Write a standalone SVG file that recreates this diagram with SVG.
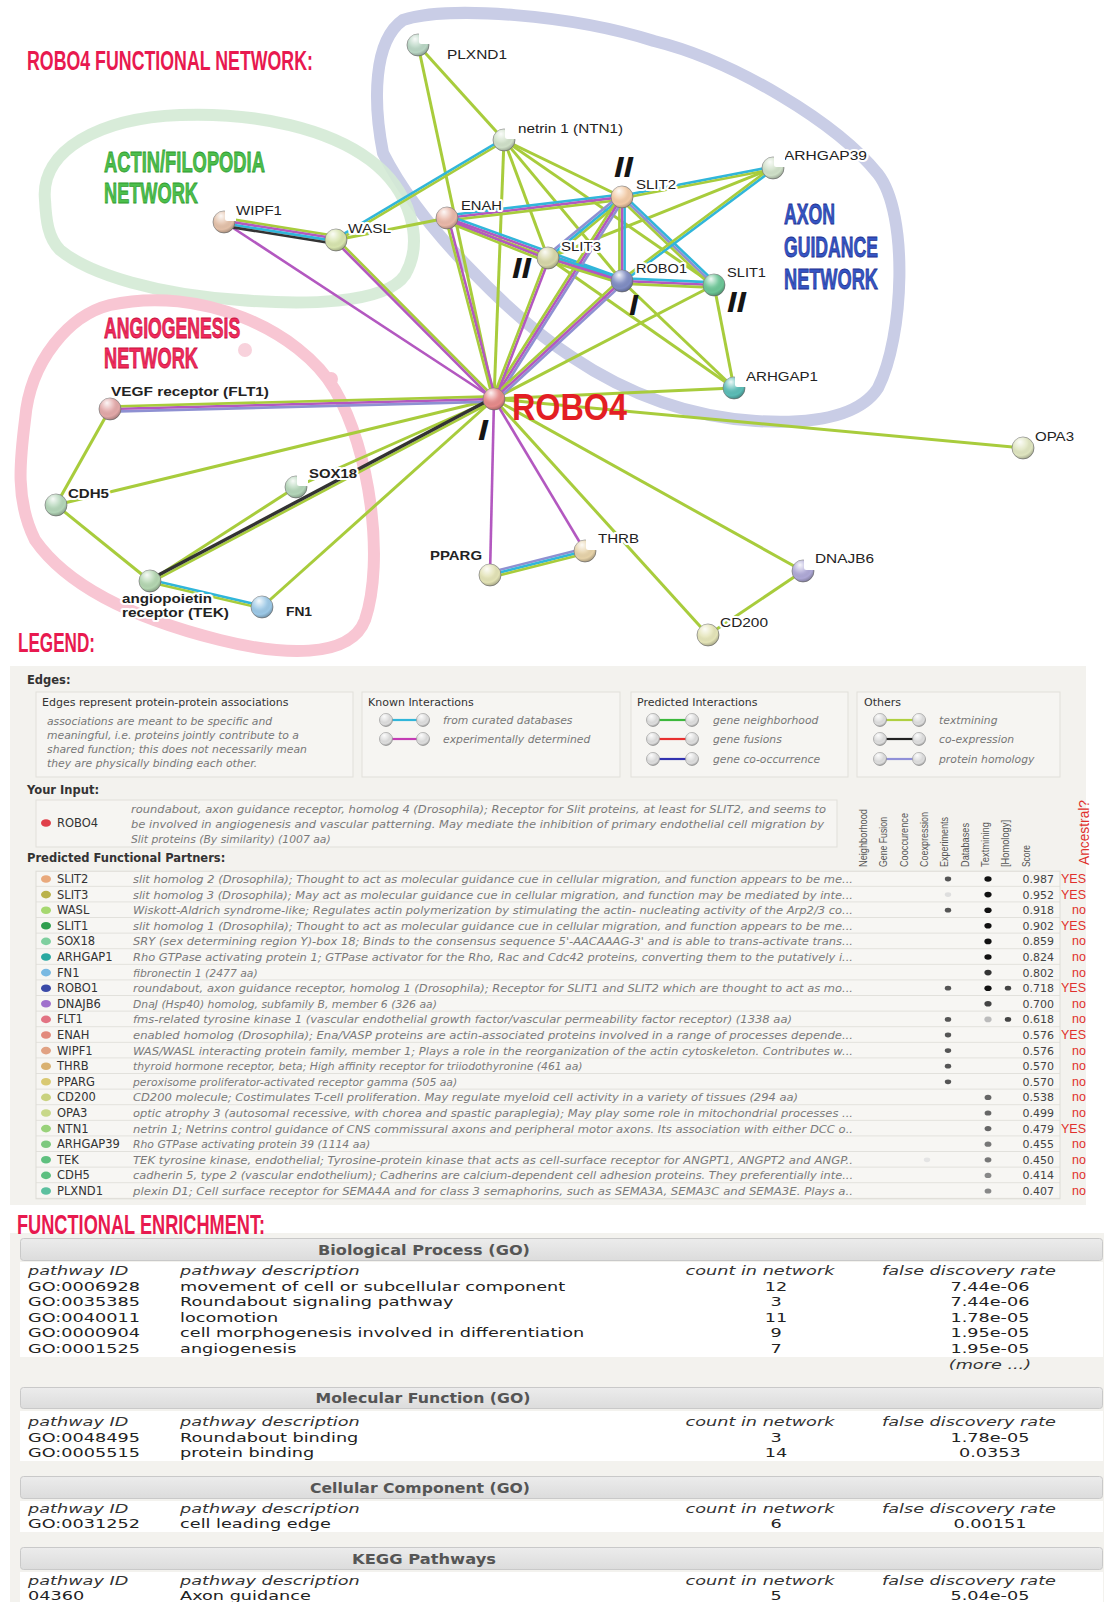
<svg xmlns="http://www.w3.org/2000/svg" width="1104" height="1602" viewBox="0 0 1104 1602">
<defs>
<style>
#edges line{stroke-width:2.6;stroke-linecap:butt;fill:none}
#edges line.s{stroke-width:3}
.tm{stroke:#a8cc3c}.ex{stroke:#b358c0}.db{stroke:#31b6da}.co{stroke:#333}.ho{stroke:#8e90d2}
.node circle{stroke:#7a7a7a;stroke-width:.7}
circle.sh{fill:url(#shine);stroke:none}
.notch{fill:#fff}
.lbl{font-family:"Liberation Sans",Arial,sans-serif;font-size:13px;fill:#222;paint-order:stroke;stroke:#fff;stroke-width:4px;stroke-linejoin:round}
.lb{font-weight:bold}
.hd{font-family:"Liberation Sans",Arial,sans-serif;font-weight:bold}
.num{font-family:"Liberation Sans",Arial,sans-serif;font-weight:bold;font-style:italic;font-size:30px;fill:#151515}
.lg{font-family:"DejaVu Sans",Verdana,sans-serif;font-size:11px;fill:#333}
.lgb{font-family:"DejaVu Sans",Verdana,sans-serif;font-size:11.5px;font-weight:bold;fill:#333}
.lgi{font-family:"DejaVu Sans",Verdana,sans-serif;font-size:10.8px;font-style:italic;fill:#777}
.pn{font-family:"DejaVu Sans",Verdana,sans-serif;font-size:11.5px;fill:#333}
.pd{font-family:"DejaVu Sans",Verdana,sans-serif;font-size:10.8px;font-style:italic;fill:#7a7a7a}
.sc{font-family:"DejaVu Sans",Verdana,sans-serif;font-size:11px;fill:#444;text-anchor:end}
.yn{font-family:"Liberation Sans",Arial,sans-serif;font-size:12.5px;fill:#e0302c;text-anchor:end}
.ch{font-family:"Liberation Sans",Arial,sans-serif;font-size:11px;fill:#555}
.et{font-family:"DejaVu Sans",Verdana,sans-serif;font-size:13px;fill:#222}
.eh{font-family:"DejaVu Sans",Verdana,sans-serif;font-size:13px;font-style:italic;fill:#333}
.bt{font-family:"DejaVu Sans",Verdana,sans-serif;font-size:14px;font-weight:bold;fill:#555;text-anchor:middle}
.bar{fill:url(#barg);stroke:#c9c9c9;stroke-width:1}
.box{fill:#f6f5f2;stroke:#e1dfda;stroke-width:1}
</style>
<radialGradient id="shine" cx="0.4" cy="0.32" r="0.72" fx="0.36" fy="0.22">
<stop offset="0" stop-color="#fff" stop-opacity="0.9"/>
<stop offset="0.45" stop-color="#fff" stop-opacity="0.12"/>
<stop offset="0.75" stop-color="#000" stop-opacity="0"/>
<stop offset="1" stop-color="#000" stop-opacity="0.3"/>
</radialGradient>
<linearGradient id="barg" x1="0" y1="0" x2="0" y2="1">
<stop offset="0" stop-color="#ececec"/><stop offset="1" stop-color="#dcdcdc"/>
</linearGradient>
<g id="ball"><circle r="6.5" fill="#dedede" stroke="#9a9a9a" stroke-width="0.7"/><circle r="6.5" fill="url(#shine)"/></g>
<path id="notch" d="M1,-12 L12,-12 L12,-1 L3.5,-1 Q1,-1 1,-3.5 Z"/>
<pattern id="rowlines" x="0" y="871.2" width="1104" height="15.6" patternUnits="userSpaceOnUse">
<rect width="1104" height="15.6" fill="#f7f6f3"/><line x1="0" y1="15.1" x2="1104" y2="15.1" stroke="#e2e1dc" stroke-width="1"/>
</pattern>
</defs>
<rect width="1104" height="1602" fill="#fff"/>

<!-- group outlines -->
<g id="clusters" fill="none" stroke-linejoin="round">
<path d="M383,153 C373,102 373,41 403,20 C449,5 572,15 654,41 C735,61 837,123 878,174 C909,214 904,337 878,388 C858,419 807,424 756,421 C694,417 633,398 572,357 C511,317 419,225 383,153 Z" stroke="#c9cde6" stroke-width="12"/>
<path d="M45,200 C40,150 100,118 180,115 C260,112 330,130 370,160 C410,190 425,240 405,275 C385,305 300,305 240,300 C160,295 90,275 60,250 C48,238 46,220 45,200 Z" stroke="#d4ead5" stroke-width="12" opacity="0.9"/>
<path d="M25,420 C30,360 70,315 110,305 C200,285 300,330 335,390 C370,450 385,560 365,620 C350,660 280,655 220,640 C140,620 70,590 35,540 C15,500 20,460 25,420 Z" stroke="#f8c6d3" stroke-width="12"/>
<circle cx="245" cy="350" r="7" fill="#f8d2dc"/>
<circle cx="331" cy="379" r="7" fill="#f8c6d3"/>
</g>

<!-- titles -->
<g id="titles">
<text class="hd" transform="translate(27 70) scale(0.634 1)" font-size="28" fill="#e8194f" textLength="451" lengthAdjust="spacingAndGlyphs">ROBO4 FUNCTIONAL NETWORK:</text>
<text class="hd" transform="translate(104 172) scale(0.612 1)" font-size="30" fill="#4cbf4c" stroke="#2e9a2e" stroke-width="0.8" textLength="263" lengthAdjust="spacingAndGlyphs">ACTIN/FILOPODIA</text>
<text class="hd" transform="translate(104 203) scale(0.606 1)" font-size="30" fill="#4cbf4c" stroke="#2e9a2e" stroke-width="0.8" textLength="155" lengthAdjust="spacingAndGlyphs">NETWORK</text>
<text class="hd" transform="translate(104 338) scale(0.587 1)" font-size="30" fill="#f02a5c" stroke="#c8103c" stroke-width="0.8" textLength="232" lengthAdjust="spacingAndGlyphs">ANGIOGENESIS</text>
<text class="hd" transform="translate(104 368) scale(0.606 1)" font-size="30" fill="#f02a5c" stroke="#c8103c" stroke-width="0.8" textLength="155" lengthAdjust="spacingAndGlyphs">NETWORK</text>
<text class="hd" transform="translate(784 224) scale(0.588 1)" font-size="30" fill="#3555c4" stroke="#1d3090" stroke-width="0.8" textLength="86.7" lengthAdjust="spacingAndGlyphs">AXON</text>
<text class="hd" transform="translate(784 257) scale(0.588 1)" font-size="30" fill="#3555c4" stroke="#1d3090" stroke-width="0.8" textLength="160" lengthAdjust="spacingAndGlyphs">GUIDANCE</text>
<text class="hd" transform="translate(784 289) scale(0.606 1)" font-size="30" fill="#3555c4" stroke="#1d3090" stroke-width="0.8" textLength="155" lengthAdjust="spacingAndGlyphs">NETWORK</text>
<text class="hd" transform="translate(18 652) scale(0.634 1)" font-size="27" fill="#e8194f" textLength="121.5" lengthAdjust="spacingAndGlyphs">LEGEND:</text>
</g>

<!-- connectors -->
<g id="edges">
<line class="tm s" x1="418" y1="45" x2="504" y2="140"/>
<line class="tm s" x1="418" y1="45" x2="494" y2="399"/>
<line class="tm s" x1="504" y1="140" x2="494" y2="399"/>
<line class="tm s" x1="504" y1="140" x2="622" y2="197"/>
<line class="tm s" x1="504" y1="140" x2="548" y2="258"/>
<line class="tm s" x1="504" y1="140" x2="622" y2="281"/>
<line class="tm s" x1="504" y1="140" x2="714" y2="285"/>
<line class="tm s" x1="336" y1="240" x2="447" y2="218"/>
<line class="tm s" x1="773" y1="168" x2="548" y2="258"/>
<line class="tm s" x1="548" y1="258" x2="734" y2="388"/>
<line class="tm s" x1="622" y1="281" x2="734" y2="388"/>
<line class="tm s" x1="714" y1="285" x2="734" y2="388"/>
<line class="tm s" x1="714" y1="285" x2="494" y2="399"/>
<line class="tm s" x1="734" y1="388" x2="494" y2="399"/>
<line class="tm s" x1="494" y1="399" x2="1023" y2="448"/>
<line class="tm s" x1="494" y1="399" x2="803" y2="571"/>
<line class="tm s" x1="494" y1="399" x2="708" y2="635"/>
<line class="tm s" x1="803" y1="571" x2="708" y2="635"/>
<line class="tm s" x1="494" y1="399" x2="56" y2="505"/>
<line class="tm s" x1="494" y1="399" x2="296" y2="487"/>
<line class="tm s" x1="494" y1="399" x2="262" y2="607"/>
<line class="tm s" x1="56" y1="505" x2="110" y2="409"/>
<line class="tm s" x1="56" y1="505" x2="150" y2="581"/>
<line class="tm s" x1="296" y1="487" x2="150" y2="581"/>
<line class="ex" x1="494" y1="399" x2="224" y2="222"/>
<line class="ex" x1="494" y1="399" x2="490" y2="575"/>
<line class="ex" x1="494" y1="399" x2="585" y2="551"/>
<g transform="translate(494 399) rotate(178.5)"><line class="ho" x1="0" y1="-2.6" x2="384" y2="-2.6"/><line class="ex" x1="0" y1="0" x2="384" y2="0"/><line class="tm" x1="0" y1="2.6" x2="384" y2="2.6"/></g>
<g transform="translate(224 222) rotate(9.1)"><line class="tm" x1="0" y1="-3.9" x2="113" y2="-3.9"/><line class="ex" x1="0" y1="-1.3" x2="113" y2="-1.3"/><line class="db" x1="0" y1="1.3" x2="113" y2="1.3"/><line class="co" x1="0" y1="3.9" x2="113" y2="3.9"/></g>
<g transform="translate(336 240) rotate(-30.8)"><line class="db" x1="0" y1="-1.3" x2="196" y2="-1.3"/><line class="tm" x1="0" y1="1.3" x2="196" y2="1.3"/></g>
<g transform="translate(447 218) rotate(-6.8)"><line class="db" x1="0" y1="-2.6" x2="176" y2="-2.6"/><line class="ex" x1="0" y1="0" x2="176" y2="0"/><line class="tm" x1="0" y1="2.6" x2="176" y2="2.6"/></g>
<g transform="translate(447 218) rotate(19.8)"><line class="db" x1="0" y1="-2.6" x2="186" y2="-2.6"/><line class="ex" x1="0" y1="0" x2="186" y2="0"/><line class="tm" x1="0" y1="2.6" x2="186" y2="2.6"/></g>
<g transform="translate(447 218) rotate(21.6)"><line class="ex" x1="0" y1="1.3" x2="108" y2="1.3"/><line class="tm" x1="0" y1="3.9" x2="108" y2="3.9"/></g>
<g transform="translate(622 197) rotate(-10.9)"><line class="db" x1="0" y1="-1.3" x2="154" y2="-1.3"/><line class="tm" x1="0" y1="1.3" x2="154" y2="1.3"/></g>
<g transform="translate(622 197) rotate(140.5)"><line class="tm" x1="0" y1="-2.6" x2="96" y2="-2.6"/><line class="db" x1="0" y1="0" x2="96" y2="0"/><line class="ho" x1="0" y1="2.6" x2="96" y2="2.6"/></g>
<g transform="translate(622 197) rotate(90)"><line class="db" x1="0" y1="-2.6" x2="84" y2="-2.6"/><line class="ex" x1="0" y1="0" x2="84" y2="0"/><line class="tm" x1="0" y1="2.6" x2="84" y2="2.6"/></g>
<g transform="translate(622 197) rotate(43.7)"><line class="db" x1="0" y1="-2.6" x2="127" y2="-2.6"/><line class="ho" x1="0" y1="0" x2="127" y2="0"/><line class="tm" x1="0" y1="2.6" x2="127" y2="2.6"/></g>
<g transform="translate(622 197) rotate(122.4)"><line class="ho" x1="0" y1="-2.6" x2="239" y2="-2.6"/><line class="ex" x1="0" y1="0" x2="239" y2="0"/><line class="tm" x1="0" y1="2.6" x2="239" y2="2.6"/></g>
<g transform="translate(548 258) rotate(17.3)"><line class="db" x1="0" y1="-2.6" x2="77" y2="-2.6"/><line class="ex" x1="0" y1="0" x2="77" y2="0"/><line class="tm" x1="0" y1="2.6" x2="77" y2="2.6"/></g>
<g transform="translate(622 281) rotate(2.5)"><line class="db" x1="0" y1="-2.6" x2="92" y2="-2.6"/><line class="ex" x1="0" y1="0" x2="92" y2="0"/><line class="tm" x1="0" y1="2.6" x2="92" y2="2.6"/></g>
<g transform="translate(622 281) rotate(137.3)"><line class="ho" x1="0" y1="-2.6" x2="174" y2="-2.6"/><line class="ex" x1="0" y1="0" x2="174" y2="0"/><line class="tm" x1="0" y1="2.6" x2="174" y2="2.6"/></g>
<g transform="translate(773 168) rotate(143.2)"><line class="db" x1="0" y1="-1.3" x2="189" y2="-1.3"/><line class="tm" x1="0" y1="1.3" x2="189" y2="1.3"/></g>
<g transform="translate(548 258) rotate(111)"><line class="ex" x1="0" y1="-1.3" x2="151" y2="-1.3"/><line class="tm" x1="0" y1="1.3" x2="151" y2="1.3"/></g>
<g transform="translate(447 218) rotate(75.4)"><line class="ex" x1="0" y1="-1.3" x2="187" y2="-1.3"/><line class="tm" x1="0" y1="1.3" x2="187" y2="1.3"/></g>
<g transform="translate(336 240) rotate(45.2)"><line class="tm" x1="0" y1="-1.3" x2="224" y2="-1.3"/><line class="ex" x1="0" y1="1.3" x2="224" y2="1.3"/></g>
<g transform="translate(494 399) rotate(152.1)"><line class="tm" x1="0" y1="-1.5" x2="389" y2="-1.5"/><line class="co" x1="0" y1="1.5" x2="389" y2="1.5" style="stroke-width:3.4"/></g>
<g transform="translate(150 581) rotate(13.1)"><line class="db" x1="0" y1="-1.3" x2="115" y2="-1.3"/><line class="tm" x1="0" y1="1.3" x2="115" y2="1.3"/></g>
<g transform="translate(490 575) rotate(-14.2)"><line class="ho" x1="0" y1="-2.6" x2="98" y2="-2.6"/><line class="db" x1="0" y1="0" x2="98" y2="0"/><line class="tm" x1="0" y1="2.6" x2="98" y2="2.6"/></g>
</g>

<!-- node labels -->
<g id="labels">
<text class="lbl" x="447" y="59" textLength="60" lengthAdjust="spacingAndGlyphs">PLXND1</text>
<text class="lbl" x="518" y="133" textLength="105" lengthAdjust="spacingAndGlyphs">netrin 1 (NTN1)</text>
<text class="lbl" x="784" y="160" textLength="83" lengthAdjust="spacingAndGlyphs">ARHGAP39</text>
<text class="lbl" x="636" y="189" textLength="40" lengthAdjust="spacingAndGlyphs">SLIT2</text>
<text class="lbl" x="461" y="210" textLength="41" lengthAdjust="spacingAndGlyphs">ENAH</text>
<text class="lbl" x="561" y="251" textLength="40" lengthAdjust="spacingAndGlyphs">SLIT3</text>
<text class="lbl" x="636" y="273" textLength="51" lengthAdjust="spacingAndGlyphs">ROBO1</text>
<text class="lbl" x="727" y="277" textLength="39" lengthAdjust="spacingAndGlyphs">SLIT1</text>
<text class="lbl" x="746" y="381" textLength="72" lengthAdjust="spacingAndGlyphs">ARHGAP1</text>
<text class="lbl" x="236" y="215" textLength="46" lengthAdjust="spacingAndGlyphs">WIPF1</text>
<text class="lbl" x="348" y="233" textLength="43" lengthAdjust="spacingAndGlyphs">WASL</text>
<text class="lbl lb" x="111" y="396" textLength="158" lengthAdjust="spacingAndGlyphs">VEGF receptor (FLT1)</text>
<text class="lbl lb" x="68" y="498" textLength="41" lengthAdjust="spacingAndGlyphs">CDH5</text>
<text class="lbl lb" x="309" y="478" textLength="48" lengthAdjust="spacingAndGlyphs">SOX18</text>
<text class="lbl lb" x="122" y="603" textLength="90" lengthAdjust="spacingAndGlyphs">angiopoietin</text>
<text class="lbl lb" x="122" y="617" textLength="107" lengthAdjust="spacingAndGlyphs">receptor (TEK)</text>
<text class="lbl lb" x="286" y="616" textLength="26" lengthAdjust="spacingAndGlyphs">FN1</text>
<text class="lbl lb" x="430" y="560" textLength="52" lengthAdjust="spacingAndGlyphs">PPARG</text>
<text class="lbl" x="598" y="543" textLength="41" lengthAdjust="spacingAndGlyphs">THRB</text>
<text class="lbl" x="815" y="563" textLength="59" lengthAdjust="spacingAndGlyphs">DNAJB6</text>
<text class="lbl" x="720" y="627" textLength="48" lengthAdjust="spacingAndGlyphs">CD200</text>
<text class="lbl" x="1035" y="441" textLength="39" lengthAdjust="spacingAndGlyphs">OPA3</text>
<text class="hd" transform="translate(512 420) scale(0.874 1)" font-size="37" fill="#e31e24" textLength="131.6" lengthAdjust="spacingAndGlyphs">ROBO4</text>
<text class="num" x="614" y="177" textLength="19" lengthAdjust="spacingAndGlyphs">II</text>
<text class="num" x="512" y="278" textLength="19" lengthAdjust="spacingAndGlyphs">II</text>
<text class="num" x="629" y="315" textLength="9" lengthAdjust="spacingAndGlyphs">I</text>
<text class="num" x="727" y="312" textLength="19" lengthAdjust="spacingAndGlyphs">II</text>
<text class="num" x="478" y="440" textLength="10" lengthAdjust="spacingAndGlyphs">I</text>
</g>

<!-- nodes -->
<g id="nodes">
<g id="n-PLXND1" class="node"><circle cx="418" cy="45" r="11" fill="#b9d6c4"/><circle class="sh" cx="418" cy="45" r="11"/><use href="#notch" class="notch" x="418" y="45"/></g>
<g id="n-NTN1" class="node"><circle cx="504" cy="140" r="11" fill="#cfe0c8"/><circle class="sh" cx="504" cy="140" r="11"/><use href="#notch" class="notch" x="504" y="140"/></g>
<g id="n-ARHGAP39" class="node"><circle cx="773" cy="168" r="11" fill="#cfe0c8"/><circle class="sh" cx="773" cy="168" r="11"/><use href="#notch" class="notch" x="773" y="168"/></g>
<g id="n-SLIT2" class="node"><circle cx="622" cy="197" r="11" fill="#f2caa5"/><circle class="sh" cx="622" cy="197" r="11"/></g>
<g id="n-ENAH" class="node"><circle cx="447" cy="218" r="11" fill="#e9b7a8"/><circle class="sh" cx="447" cy="218" r="11"/></g>
<g id="n-WIPF1" class="node"><circle cx="224" cy="222" r="11" fill="#e3c0a8"/><circle class="sh" cx="224" cy="222" r="11"/><use href="#notch" class="notch" x="224" y="222"/></g>
<g id="n-WASL" class="node"><circle cx="336" cy="240" r="11" fill="#d7e4ae"/><circle class="sh" cx="336" cy="240" r="11"/></g>
<g id="n-SLIT3" class="node"><circle cx="548" cy="258" r="11" fill="#d6d6a8"/><circle class="sh" cx="548" cy="258" r="11"/></g>
<g id="n-ROBO1" class="node"><circle cx="622" cy="281" r="11" fill="#7f8cc2"/><circle class="sh" cx="622" cy="281" r="11"/></g>
<g id="n-SLIT1" class="node"><circle cx="714" cy="285" r="11" fill="#6cc596"/><circle class="sh" cx="714" cy="285" r="11"/></g>
<g id="n-ARHGAP1" class="node"><circle cx="734" cy="388" r="11" fill="#5bbcb6"/><circle class="sh" cx="734" cy="388" r="11"/><use href="#notch" class="notch" x="734" y="388"/></g>
<g id="n-ROBO4" class="node"><circle cx="494" cy="399" r="11" fill="#e58a8a"/><circle class="sh" cx="494" cy="399" r="11"/></g>
<g id="n-FLT1" class="node"><circle cx="110" cy="409" r="11" fill="#e2a8a8"/><circle class="sh" cx="110" cy="409" r="11"/></g>
<g id="n-OPA3" class="node"><circle cx="1023" cy="448" r="11" fill="#dfe5c0"/><circle class="sh" cx="1023" cy="448" r="11"/></g>
<g id="n-CDH5" class="node"><circle cx="56" cy="505" r="11" fill="#b3d5b8"/><circle class="sh" cx="56" cy="505" r="11"/></g>
<g id="n-SOX18" class="node"><circle cx="296" cy="487" r="11" fill="#b3d5b8"/><circle class="sh" cx="296" cy="487" r="11"/><use href="#notch" class="notch" x="296" y="487"/></g>
<g id="n-TEK" class="node"><circle cx="150" cy="581" r="11" fill="#b3d5b0"/><circle class="sh" cx="150" cy="581" r="11"/></g>
<g id="n-FN1" class="node"><circle cx="262" cy="607" r="11" fill="#9cc8e6"/><circle class="sh" cx="262" cy="607" r="11"/></g>
<g id="n-PPARG" class="node"><circle cx="490" cy="575" r="11" fill="#e2e2b5"/><circle class="sh" cx="490" cy="575" r="11"/></g>
<g id="n-THRB" class="node"><circle cx="585" cy="551" r="11" fill="#e6d2a8"/><circle class="sh" cx="585" cy="551" r="11"/><use href="#notch" class="notch" x="585" y="551"/></g>
<g id="n-DNAJB6" class="node"><circle cx="803" cy="571" r="11" fill="#aea8d6"/><circle class="sh" cx="803" cy="571" r="11"/><use href="#notch" class="notch" x="803" y="571"/></g>
<g id="n-CD200" class="node"><circle cx="708" cy="635" r="11" fill="#e4e4b8"/><circle class="sh" cx="708" cy="635" r="11"/></g>
</g>

<!-- legend panel -->
<g id="legend">
<rect x="10" y="666" width="1076" height="539" fill="#f3f2ee"/>
<text class="lgb" x="27" y="684">Edges:</text>
<rect class="box" x="36" y="692" width="317" height="85"/>
<rect class="box" x="362" y="692" width="258" height="85"/>
<rect class="box" x="631" y="692" width="217" height="85"/>
<rect class="box" x="857" y="692" width="203" height="85"/>
<text class="lg" x="42" y="706">Edges represent protein-protein associations</text>
<text class="lgi" x="47" y="725">associations are meant to be specific and</text>
<text class="lgi" x="47" y="739">meaningful, i.e. proteins jointly contribute to a</text>
<text class="lgi" x="47" y="753">shared function; this does not necessarily mean</text>
<text class="lgi" x="47" y="767">they are physically binding each other.</text>
<text class="lg" x="368" y="706">Known Interactions</text>
<text class="lg" x="637" y="706">Predicted Interactions</text>
<text class="lg" x="864" y="706">Others</text>
<g stroke-width="2.2">
<line x1="392" y1="720" x2="417" y2="720" stroke="#31b6da"/><use href="#ball" x="386" y="720"/><use href="#ball" x="423" y="720"/>
<line x1="392" y1="739" x2="417" y2="739" stroke="#c43cb4"/><use href="#ball" x="386" y="739"/><use href="#ball" x="423" y="739"/>
<line x1="659" y1="720" x2="686" y2="720" stroke="#3cb83c"/><use href="#ball" x="653" y="720"/><use href="#ball" x="692" y="720"/>
<line x1="659" y1="739" x2="686" y2="739" stroke="#e83030"/><use href="#ball" x="653" y="739"/><use href="#ball" x="692" y="739"/>
<line x1="659" y1="759" x2="686" y2="759" stroke="#3232b0"/><use href="#ball" x="653" y="759"/><use href="#ball" x="692" y="759"/>
<line x1="886" y1="720" x2="913" y2="720" stroke="#b0d040"/><use href="#ball" x="880" y="720"/><use href="#ball" x="919" y="720"/>
<line x1="886" y1="739" x2="913" y2="739" stroke="#222"/><use href="#ball" x="880" y="739"/><use href="#ball" x="919" y="739"/>
<line x1="886" y1="759" x2="913" y2="759" stroke="#9090d8"/><use href="#ball" x="880" y="759"/><use href="#ball" x="919" y="759"/>
</g>
<text class="lgi" x="443" y="724">from curated databases</text>
<text class="lgi" x="443" y="743">experimentally determined</text>
<text class="lgi" x="713" y="724">gene neighborhood</text>
<text class="lgi" x="713" y="743">gene fusions</text>
<text class="lgi" x="713" y="763">gene co-occurrence</text>
<text class="lgi" x="939" y="724">textmining</text>
<text class="lgi" x="939" y="743">co-expression</text>
<text class="lgi" x="939" y="763">protein homology</text>

<text class="lgb" x="27" y="794">Your Input:</text>
<rect class="box" x="36" y="800" width="801" height="47"/>
<ellipse cx="46" cy="823" rx="5" ry="3.8" fill="#e0404a"/>
<text class="pn" x="57" y="827">ROBO4</text>
<text class="pd" x="131" y="813" textLength="695" lengthAdjust="spacingAndGlyphs">roundabout, axon guidance receptor, homolog 4 (Drosophila); Receptor for Slit proteins, at least for SLIT2, and seems to</text>
<text class="pd" x="131" y="828" textLength="693" lengthAdjust="spacingAndGlyphs">be involved in angiogenesis and vascular patterning. May mediate the inhibition of primary endothelial cell migration by</text>
<text class="pd" x="131" y="843">Slit proteins (By similarity) (1007 aa)</text>

<g class="ch">
<text transform="translate(867 867) rotate(-90)" textLength="58" lengthAdjust="spacingAndGlyphs">Neighborhood</text>
<text transform="translate(887 867) rotate(-90)" textLength="50" lengthAdjust="spacingAndGlyphs">Gene Fusion</text>
<text transform="translate(908 867) rotate(-90)" textLength="54" lengthAdjust="spacingAndGlyphs">Cooccurence</text>
<text transform="translate(928 867) rotate(-90)" textLength="55" lengthAdjust="spacingAndGlyphs">Coexpression</text>
<text transform="translate(948 867) rotate(-90)" textLength="50" lengthAdjust="spacingAndGlyphs">Experiments</text>
<text transform="translate(969 867) rotate(-90)" textLength="44" lengthAdjust="spacingAndGlyphs">Databases</text>
<text transform="translate(989 867) rotate(-90)" textLength="45" lengthAdjust="spacingAndGlyphs">Textmining</text>
<text transform="translate(1009 867) rotate(-90)" textLength="47" lengthAdjust="spacingAndGlyphs">[Homology]</text>
<text transform="translate(1030 867) rotate(-90)" textLength="22" lengthAdjust="spacingAndGlyphs">Score</text>
</g>
<text transform="translate(1089 865) rotate(-90)" font-family="Liberation Sans, Arial, sans-serif" font-size="15" fill="#e0302c" textLength="65" lengthAdjust="spacingAndGlyphs">Ancestral?</text>

<text class="lgb" x="27" y="862">Predicted Functional Partners:</text>
<rect x="36" y="871.2" width="1024" height="327.6" fill="url(#rowlines)" stroke="#dddcd6" stroke-width="1"/>

<g transform="translate(0 879)"><ellipse cx="46" cy="0" rx="5" ry="3.8" fill="#e9a97c"/><text class="pn" x="57" y="4">SLIT2</text><text class="pd" x="133" y="4" textLength="720" lengthAdjust="spacingAndGlyphs">slit homolog 2 (Drosophila); Thought to act as molecular guidance cue in cellular migration, and function appears to be me...</text><ellipse cx="948" cy="0" rx="3.2" ry="2.4" fill="#555"/><ellipse cx="988" cy="0" rx="3.6" ry="2.8" fill="#111"/><text class="sc" x="1054" y="4">0.987</text><text class="yn" x="1086" y="4">YES</text></g>
<g transform="translate(0 894.6)"><ellipse cx="46" cy="0" rx="5" ry="3.8" fill="#bab24a"/><text class="pn" x="57" y="4">SLIT3</text><text class="pd" x="133" y="4" textLength="720" lengthAdjust="spacingAndGlyphs">slit homolog 3 (Drosophila); May act as molecular guidance cue in cellular migration, and function may be mediated by inte...</text><ellipse cx="948" cy="0" rx="3.2" ry="2.4" fill="#dedede"/><ellipse cx="988" cy="0" rx="3.6" ry="2.8" fill="#111"/><text class="sc" x="1054" y="4">0.952</text><text class="yn" x="1086" y="4">YES</text></g>
<g transform="translate(0 910.2)"><ellipse cx="46" cy="0" rx="5" ry="3.8" fill="#a6d870"/><text class="pn" x="57" y="4">WASL</text><text class="pd" x="133" y="4" textLength="720" lengthAdjust="spacingAndGlyphs">Wiskott-Aldrich syndrome-like; Regulates actin polymerization by stimulating the actin- nucleating activity of the Arp2/3 co...</text><ellipse cx="948" cy="0" rx="3.2" ry="2.4" fill="#555"/><ellipse cx="988" cy="0" rx="3.6" ry="2.8" fill="#111"/><text class="sc" x="1054" y="4">0.918</text><text class="yn" x="1086" y="4">no</text></g>
<g transform="translate(0 925.8)"><ellipse cx="46" cy="0" rx="5" ry="3.8" fill="#2f9e4e"/><text class="pn" x="57" y="4">SLIT1</text><text class="pd" x="133" y="4" textLength="720" lengthAdjust="spacingAndGlyphs">slit homolog 1 (Drosophila); Thought to act as molecular guidance cue in cellular migration, and function appears to be me...</text><ellipse cx="988" cy="0" rx="3.6" ry="2.8" fill="#111"/><text class="sc" x="1054" y="4">0.902</text><text class="yn" x="1086" y="4">YES</text></g>
<g transform="translate(0 941.4)"><ellipse cx="46" cy="0" rx="5" ry="3.8" fill="#7fcf9f"/><text class="pn" x="57" y="4">SOX18</text><text class="pd" x="133" y="4" textLength="720" lengthAdjust="spacingAndGlyphs">SRY (sex determining region Y)-box 18; Binds to the consensus sequence 5'-AACAAAG-3' and is able to trans-activate trans...</text><ellipse cx="988" cy="0" rx="3.6" ry="2.8" fill="#111"/><text class="sc" x="1054" y="4">0.859</text><text class="yn" x="1086" y="4">no</text></g>
<g transform="translate(0 957)"><ellipse cx="46" cy="0" rx="5" ry="3.8" fill="#2aa9a1"/><text class="pn" x="57" y="4">ARHGAP1</text><text class="pd" x="133" y="4" textLength="720" lengthAdjust="spacingAndGlyphs">Rho GTPase activating protein 1; GTPase activator for the Rho, Rac and Cdc42 proteins, converting them to the putatively i...</text><ellipse cx="988" cy="0" rx="3.6" ry="2.8" fill="#111"/><text class="sc" x="1054" y="4">0.824</text><text class="yn" x="1086" y="4">no</text></g>
<g transform="translate(0 972.6)"><ellipse cx="46" cy="0" rx="5" ry="3.8" fill="#79b9e2"/><text class="pn" x="57" y="4">FN1</text><text class="pd" x="133" y="4">fibronectin 1 (2477 aa)</text><ellipse cx="988" cy="0" rx="3.6" ry="2.8" fill="#333"/><text class="sc" x="1054" y="4">0.802</text><text class="yn" x="1086" y="4">no</text></g>
<g transform="translate(0 988.2)"><ellipse cx="46" cy="0" rx="5" ry="3.8" fill="#3a4aa8"/><text class="pn" x="57" y="4">ROBO1</text><text class="pd" x="133" y="4" textLength="720" lengthAdjust="spacingAndGlyphs">roundabout, axon guidance receptor, homolog 1 (Drosophila); Receptor for SLIT1 and SLIT2 which are thought to act as mo...</text><ellipse cx="948" cy="0" rx="3.2" ry="2.4" fill="#555"/><ellipse cx="988" cy="0" rx="3.6" ry="2.8" fill="#111"/><ellipse cx="1008" cy="0" rx="3.2" ry="2.4" fill="#444"/><text class="sc" x="1054" y="4">0.718</text><text class="yn" x="1086" y="4">YES</text></g>
<g transform="translate(0 1003.8)"><ellipse cx="46" cy="0" rx="5" ry="3.8" fill="#a070cc"/><text class="pn" x="57" y="4">DNAJB6</text><text class="pd" x="133" y="4">DnaJ (Hsp40) homolog, subfamily B, member 6 (326 aa)</text><ellipse cx="988" cy="0" rx="3.6" ry="2.8" fill="#444"/><text class="sc" x="1054" y="4">0.700</text><text class="yn" x="1086" y="4">no</text></g>
<g transform="translate(0 1019.4)"><ellipse cx="46" cy="0" rx="5" ry="3.8" fill="#e27383"/><text class="pn" x="57" y="4">FLT1</text><text class="pd" x="133" y="4" textLength="659" lengthAdjust="spacingAndGlyphs">fms-related tyrosine kinase 1 (vascular endothelial growth factor/vascular permeability factor receptor) (1338 aa)</text><ellipse cx="948" cy="0" rx="3.2" ry="2.4" fill="#555"/><ellipse cx="988" cy="0" rx="3.6" ry="2.8" fill="#bbb"/><ellipse cx="1008" cy="0" rx="3.2" ry="2.4" fill="#444"/><text class="sc" x="1054" y="4">0.618</text><text class="yn" x="1086" y="4">no</text></g>
<g transform="translate(0 1035)"><ellipse cx="46" cy="0" rx="5" ry="3.8" fill="#e28a7c"/><text class="pn" x="57" y="4">ENAH</text><text class="pd" x="133" y="4" textLength="720" lengthAdjust="spacingAndGlyphs">enabled homolog (Drosophila); Ena/VASP proteins are actin-associated proteins involved in a range of processes depende...</text><ellipse cx="948" cy="0" rx="3.2" ry="2.4" fill="#555"/><text class="sc" x="1054" y="4">0.576</text><text class="yn" x="1086" y="4">YES</text></g>
<g transform="translate(0 1050.6)"><ellipse cx="46" cy="0" rx="5" ry="3.8" fill="#e1a283"/><text class="pn" x="57" y="4">WIPF1</text><text class="pd" x="133" y="4" textLength="720" lengthAdjust="spacingAndGlyphs">WAS/WASL interacting protein family, member 1; Plays a role in the reorganization of the actin cytoskeleton. Contributes w...</text><ellipse cx="948" cy="0" rx="3.2" ry="2.4" fill="#555"/><text class="sc" x="1054" y="4">0.576</text><text class="yn" x="1086" y="4">no</text></g>
<g transform="translate(0 1066.2)"><ellipse cx="46" cy="0" rx="5" ry="3.8" fill="#d9b171"/><text class="pn" x="57" y="4">THRB</text><text class="pd" x="133" y="4">thyroid hormone receptor, beta; High affinity receptor for triiodothyronine (461 aa)</text><ellipse cx="948" cy="0" rx="3.2" ry="2.4" fill="#555"/><text class="sc" x="1054" y="4">0.570</text><text class="yn" x="1086" y="4">no</text></g>
<g transform="translate(0 1081.8)"><ellipse cx="46" cy="0" rx="5" ry="3.8" fill="#d9c972"/><text class="pn" x="57" y="4">PPARG</text><text class="pd" x="133" y="4">peroxisome proliferator-activated receptor gamma (505 aa)</text><ellipse cx="948" cy="0" rx="3.2" ry="2.4" fill="#555"/><text class="sc" x="1054" y="4">0.570</text><text class="yn" x="1086" y="4">no</text></g>
<g transform="translate(0 1097.4)"><ellipse cx="46" cy="0" rx="5" ry="3.8" fill="#c9d27f"/><text class="pn" x="57" y="4">CD200</text><text class="pd" x="133" y="4" textLength="665" lengthAdjust="spacingAndGlyphs">CD200 molecule; Costimulates T-cell proliferation. May regulate myeloid cell activity in a variety of tissues (294 aa)</text><ellipse cx="988" cy="0" rx="3.4" ry="2.6" fill="#666"/><text class="sc" x="1054" y="4">0.538</text><text class="yn" x="1086" y="4">no</text></g>
<g transform="translate(0 1113)"><ellipse cx="46" cy="0" rx="5" ry="3.8" fill="#c8d889"/><text class="pn" x="57" y="4">OPA3</text><text class="pd" x="133" y="4" textLength="720" lengthAdjust="spacingAndGlyphs">optic atrophy 3 (autosomal recessive, with chorea and spastic paraplegia); May play some role in mitochondrial processes ...</text><ellipse cx="988" cy="0" rx="3.4" ry="2.6" fill="#666"/><text class="sc" x="1054" y="4">0.499</text><text class="yn" x="1086" y="4">no</text></g>
<g transform="translate(0 1128.6)"><ellipse cx="46" cy="0" rx="5" ry="3.8" fill="#99d27a"/><text class="pn" x="57" y="4">NTN1</text><text class="pd" x="133" y="4" textLength="720" lengthAdjust="spacingAndGlyphs">netrin 1; Netrins control guidance of CNS commissural axons and peripheral motor axons. Its association with either DCC o..</text><ellipse cx="988" cy="0" rx="3.4" ry="2.6" fill="#666"/><text class="sc" x="1054" y="4">0.479</text><text class="yn" x="1086" y="4">YES</text></g>
<g transform="translate(0 1144.2)"><ellipse cx="46" cy="0" rx="5" ry="3.8" fill="#7dc87e"/><text class="pn" x="57" y="4">ARHGAP39</text><text class="pd" x="133" y="4">Rho GTPase activating protein 39 (1114 aa)</text><ellipse cx="988" cy="0" rx="3.4" ry="2.6" fill="#777"/><text class="sc" x="1054" y="4">0.455</text><text class="yn" x="1086" y="4">no</text></g>
<g transform="translate(0 1159.8)"><ellipse cx="46" cy="0" rx="5" ry="3.8" fill="#5fc07f"/><text class="pn" x="57" y="4">TEK</text><text class="pd" x="133" y="4" textLength="720" lengthAdjust="spacingAndGlyphs">TEK tyrosine kinase, endothelial; Tyrosine-protein kinase that acts as cell-surface receptor for ANGPT1, ANGPT2 and ANGP..</text><ellipse cx="927" cy="0" rx="3.2" ry="2.4" fill="#e4e4e4"/><ellipse cx="988" cy="0" rx="3.4" ry="2.6" fill="#777"/><text class="sc" x="1054" y="4">0.450</text><text class="yn" x="1086" y="4">no</text></g>
<g transform="translate(0 1175.4)"><ellipse cx="46" cy="0" rx="5" ry="3.8" fill="#5dbf80"/><text class="pn" x="57" y="4">CDH5</text><text class="pd" x="133" y="4" textLength="720" lengthAdjust="spacingAndGlyphs">cadherin 5, type 2 (vascular endothelium); Cadherins are calcium-dependent cell adhesion proteins. They preferentially inte...</text><ellipse cx="988" cy="0" rx="3.4" ry="2.6" fill="#888"/><text class="sc" x="1054" y="4">0.414</text><text class="yn" x="1086" y="4">no</text></g>
<g transform="translate(0 1191)"><ellipse cx="46" cy="0" rx="5" ry="3.8" fill="#5cc09f"/><text class="pn" x="57" y="4">PLXND1</text><text class="pd" x="133" y="4" textLength="720" lengthAdjust="spacingAndGlyphs">plexin D1; Cell surface receptor for SEMA4A and for class 3 semaphorins, such as SEMA3A, SEMA3C and SEMA3E. Plays a..</text><ellipse cx="988" cy="0" rx="3.4" ry="2.6" fill="#888"/><text class="sc" x="1054" y="4">0.407</text><text class="yn" x="1086" y="4">no</text></g>
</g>

<!-- functional enrichment -->
<g id="enrichment">
<rect x="10" y="1233" width="1094" height="369" fill="#f3f2ee"/>
<text class="hd" transform="translate(17 1234) scale(0.667 1)" font-size="27" fill="#e8194f" textLength="372" lengthAdjust="spacingAndGlyphs">FUNCTIONAL ENRICHMENT:</text>
<rect class="bar" x="20.5" y="1238.5" width="1082" height="22" rx="3"/>
<rect class="bar" x="20.5" y="1387.5" width="1082" height="21" rx="3"/>
<rect class="bar" x="20.5" y="1476.5" width="1082" height="22" rx="3"/>
<rect class="bar" x="20.5" y="1547.5" width="1082" height="22" rx="3"/>
<text class="bt" x="424" y="1255" textLength="212" lengthAdjust="spacingAndGlyphs">Biological Process (GO)</text>
<text class="bt" x="423" y="1403" textLength="215" lengthAdjust="spacingAndGlyphs">Molecular Function (GO)</text>
<text class="bt" x="420" y="1493" textLength="220" lengthAdjust="spacingAndGlyphs">Cellular Component (GO)</text>
<text class="bt" x="424" y="1564" textLength="144" lengthAdjust="spacingAndGlyphs">KEGG Pathways</text>
<rect x="20" y="1262" width="1083" height="95" fill="#fff"/>
<rect x="20" y="1411" width="1083" height="50" fill="#fff"/>
<rect x="20" y="1501" width="1083" height="31" fill="#fff"/>
<rect x="20" y="1572" width="1083" height="30" fill="#fff"/>
<g transform="scale(1.36 1)">
<text class="eh" x="20.6" y="1275">pathway ID</text><text class="eh" x="132.4" y="1275">pathway description</text><text class="eh" x="558.8" y="1275" text-anchor="middle">count in network</text><text class="eh" x="712.5" y="1275" text-anchor="middle">false discovery rate</text>
<text class="et" x="20.6" y="1291">GO:0006928</text><text class="et" x="132.4" y="1291">movement of cell or subcellular component</text><text class="et" x="570.6" y="1291" text-anchor="middle">12</text><text class="et" x="727.9" y="1291" text-anchor="middle">7.44e-06</text>
<text class="et" x="20.6" y="1306">GO:0035385</text><text class="et" x="132.4" y="1306">Roundabout signaling pathway</text><text class="et" x="570.6" y="1306" text-anchor="middle">3</text><text class="et" x="727.9" y="1306" text-anchor="middle">7.44e-06</text>
<text class="et" x="20.6" y="1322">GO:0040011</text><text class="et" x="132.4" y="1322">locomotion</text><text class="et" x="570.6" y="1322" text-anchor="middle">11</text><text class="et" x="727.9" y="1322" text-anchor="middle">1.78e-05</text>
<text class="et" x="20.6" y="1337">GO:0000904</text><text class="et" x="132.4" y="1337">cell morphogenesis involved in differentiation</text><text class="et" x="570.6" y="1337" text-anchor="middle">9</text><text class="et" x="727.9" y="1337" text-anchor="middle">1.95e-05</text>
<text class="et" x="20.6" y="1353">GO:0001525</text><text class="et" x="132.4" y="1353">angiogenesis</text><text class="et" x="570.6" y="1353" text-anchor="middle">7</text><text class="et" x="727.9" y="1353" text-anchor="middle">1.95e-05</text>
<text class="eh" x="727.9" y="1369" text-anchor="middle">(more ...)</text>
<text class="eh" x="20.6" y="1426">pathway ID</text><text class="eh" x="132.4" y="1426">pathway description</text><text class="eh" x="558.8" y="1426" text-anchor="middle">count in network</text><text class="eh" x="712.5" y="1426" text-anchor="middle">false discovery rate</text>
<text class="et" x="20.6" y="1442">GO:0048495</text><text class="et" x="132.4" y="1442">Roundabout binding</text><text class="et" x="570.6" y="1442" text-anchor="middle">3</text><text class="et" x="727.9" y="1442" text-anchor="middle">1.78e-05</text>
<text class="et" x="20.6" y="1457">GO:0005515</text><text class="et" x="132.4" y="1457">protein binding</text><text class="et" x="570.6" y="1457" text-anchor="middle">14</text><text class="et" x="727.9" y="1457" text-anchor="middle">0.0353</text>
<text class="eh" x="20.6" y="1513">pathway ID</text><text class="eh" x="132.4" y="1513">pathway description</text><text class="eh" x="558.8" y="1513" text-anchor="middle">count in network</text><text class="eh" x="712.5" y="1513" text-anchor="middle">false discovery rate</text>
<text class="et" x="20.6" y="1528">GO:0031252</text><text class="et" x="132.4" y="1528">cell leading edge</text><text class="et" x="570.6" y="1528" text-anchor="middle">6</text><text class="et" x="727.9" y="1528" text-anchor="middle">0.00151</text>
<text class="eh" x="20.6" y="1585">pathway ID</text><text class="eh" x="132.4" y="1585">pathway description</text><text class="eh" x="558.8" y="1585" text-anchor="middle">count in network</text><text class="eh" x="712.5" y="1585" text-anchor="middle">false discovery rate</text>
<text class="et" x="20.6" y="1600">04360</text><text class="et" x="132.4" y="1600">Axon guidance</text><text class="et" x="570.6" y="1600" text-anchor="middle">5</text><text class="et" x="727.9" y="1600" text-anchor="middle">5.04e-05</text>
</g>
</g>
</svg>
